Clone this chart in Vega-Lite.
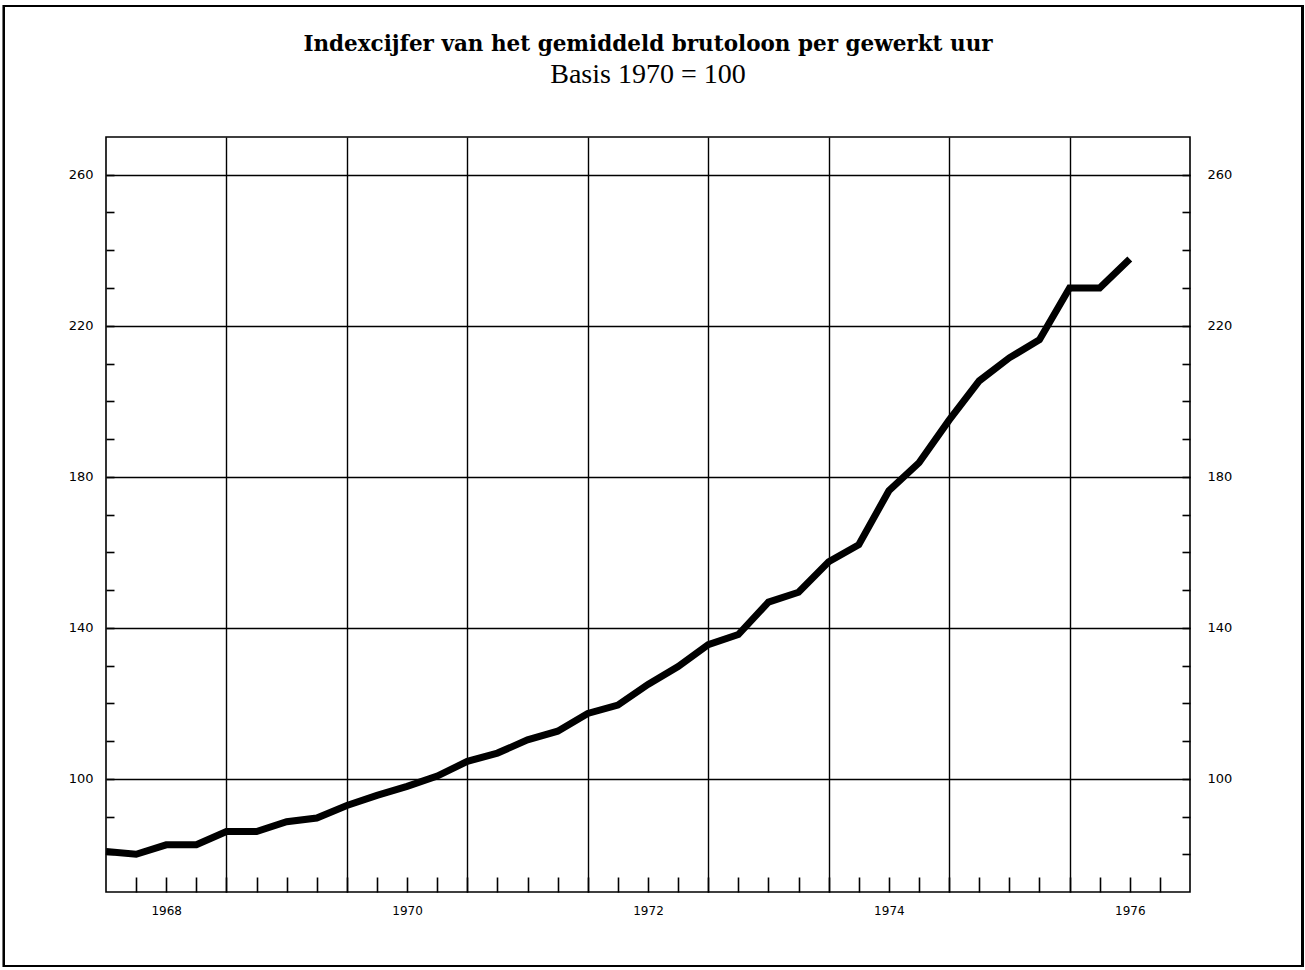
{
  "$schema": "https://vega.github.io/schema/vega-lite/v6.json",
  "width": 1084,
  "height": 755,
  "autosize": "none",
  "padding": {"left": 106, "top": 137, "right": 115, "bottom": 78},
  "background": "white",
  "title": {
    "text": "Indexcijfer van het gemiddeld brutoloon per gewerkt uur",
    "subtitle": "Basis 1970 = 100",
    "font": "DejaVu Serif",
    "fontSize": 21.5,
    "fontWeight": "bold",
    "color": "black",
    "subtitleFont": "Liberation Serif",
    "subtitleFontSize": 28,
    "subtitleColor": "black",
    "subtitlePadding": 6,
    "anchor": "middle",
    "offset": -84
  },
  "config": {
    "view": {"stroke": "black", "strokeWidth": 1.6},
    "axis": {"labelFont": "DejaVu Sans", "labelFontSize": 13, "labelColor": "black", "tickColor": "black", "gridColor": "black", "domain": false}
  },
  "data": {
    "values": [
      {"t": 1968.00, "index": 80.7},
      {"t": 1968.25, "index": 80.0},
      {"t": 1968.50, "index": 82.5},
      {"t": 1968.75, "index": 82.5},
      {"t": 1969.00, "index": 86.0},
      {"t": 1969.25, "index": 86.0},
      {"t": 1969.50, "index": 88.6},
      {"t": 1969.75, "index": 89.6},
      {"t": 1970.00, "index": 92.9},
      {"t": 1970.25, "index": 95.6},
      {"t": 1970.50, "index": 98.0},
      {"t": 1970.75, "index": 100.7},
      {"t": 1971.00, "index": 104.6},
      {"t": 1971.25, "index": 106.8},
      {"t": 1971.50, "index": 110.3},
      {"t": 1971.75, "index": 112.6},
      {"t": 1972.00, "index": 117.3},
      {"t": 1972.25, "index": 119.5},
      {"t": 1972.50, "index": 125.0},
      {"t": 1972.75, "index": 129.7},
      {"t": 1973.00, "index": 135.5},
      {"t": 1973.25, "index": 138.2},
      {"t": 1973.50, "index": 146.8},
      {"t": 1973.75, "index": 149.4},
      {"t": 1974.00, "index": 157.5},
      {"t": 1974.25, "index": 162.0},
      {"t": 1974.50, "index": 176.3},
      {"t": 1974.75, "index": 183.7},
      {"t": 1975.00, "index": 195.0},
      {"t": 1975.25, "index": 205.4},
      {"t": 1975.50, "index": 211.5},
      {"t": 1975.75, "index": 216.3},
      {"t": 1976.00, "index": 230.0},
      {"t": 1976.25, "index": 230.0},
      {"t": 1976.50, "index": 237.7}
    ]
  },
  "layer": [
    {
      "mark": {"type": "rect", "fill": null, "stroke": "black", "strokeWidth": 2, "clip": false},
      "encoding": {
        "x": {"datum": 1967.153, "type": "quantitative", "scale": {"domain": [1968, 1977], "nice": false, "zero": false}, "axis": null},
        "x2": {"datum": 1977.934},
        "y": {"datum": 50.4, "type": "quantitative", "scale": {"domain": [70, 270], "nice": false, "zero": false}, "axis": null},
        "y2": {"datum": 304.7}
      }
    },
    {
      "mark": {"type": "line", "color": "black", "strokeWidth": 7, "strokeJoin": "miter", "strokeCap": "butt"},
      "encoding": {
        "x": {
          "field": "t", "type": "quantitative",
          "scale": {"domain": [1968, 1977], "nice": false, "zero": false},
          "axis": {
            "orient": "bottom", "title": null,
            "values": [1968.25, 1968.5, 1968.75, 1969, 1969.25, 1969.5, 1969.75, 1970, 1970.25, 1970.5, 1970.75, 1971, 1971.25, 1971.5, 1971.75, 1972, 1972.25, 1972.5, 1972.75, 1973, 1973.25, 1973.5, 1973.75, 1974, 1974.25, 1974.5, 1974.75, 1975, 1975.25, 1975.5, 1975.75, 1976, 1976.25, 1976.5, 1976.75],
            "tickSize": -15, "tickWidth": 1.6,
            "grid": true, "gridWidth": 1.4,
            "gridOpacity": {"condition": {"test": "datum.value % 1 == 0", "value": 1}, "value": 0},
            "labelExpr": "(datum.value % 1 == 0.5 && floor(datum.value) % 2 == 0) ? '' + floor(datum.value) : ''",
            "labelPadding": 28, "labelFontSize": 12
          }
        },
        "y": {
          "field": "index", "type": "quantitative",
          "scale": {"domain": [70, 270], "nice": false, "zero": false},
          "axis": {
            "orient": "left", "title": null,
            "values": [80, 90, 100, 110, 120, 130, 140, 150, 160, 170, 180, 190, 200, 210, 220, 230, 240, 250, 260],
            "tickSize": -8, "tickWidth": 1.6,
            "grid": true, "gridWidth": 1.4,
            "gridOpacity": {"condition": {"test": "(datum.value - 100) % 40 == 0", "value": 1}, "value": 0},
            "labelExpr": "(datum.value - 100) % 40 == 0 ? datum.label : ''",
            "labelPadding": 21
          }
        }
      }
    },
    {
      "mark": {"type": "line", "opacity": 0},
      "encoding": {
        "x": {"field": "t", "type": "quantitative", "axis": null},
        "y": {
          "field": "index", "type": "quantitative",
          "axis": {
            "orient": "right", "title": null,
            "values": [80, 90, 100, 110, 120, 130, 140, 150, 160, 170, 180, 190, 200, 210, 220, 230, 240, 250, 260],
            "tickSize": -8, "tickWidth": 1.6, "grid": false,
            "labelExpr": "(datum.value - 100) % 40 == 0 ? datum.label : ''",
            "labelPadding": 25
          }
        }
      }
    }
  ],
  "resolve": {"axis": {"x": "independent", "y": "independent"}}
}
